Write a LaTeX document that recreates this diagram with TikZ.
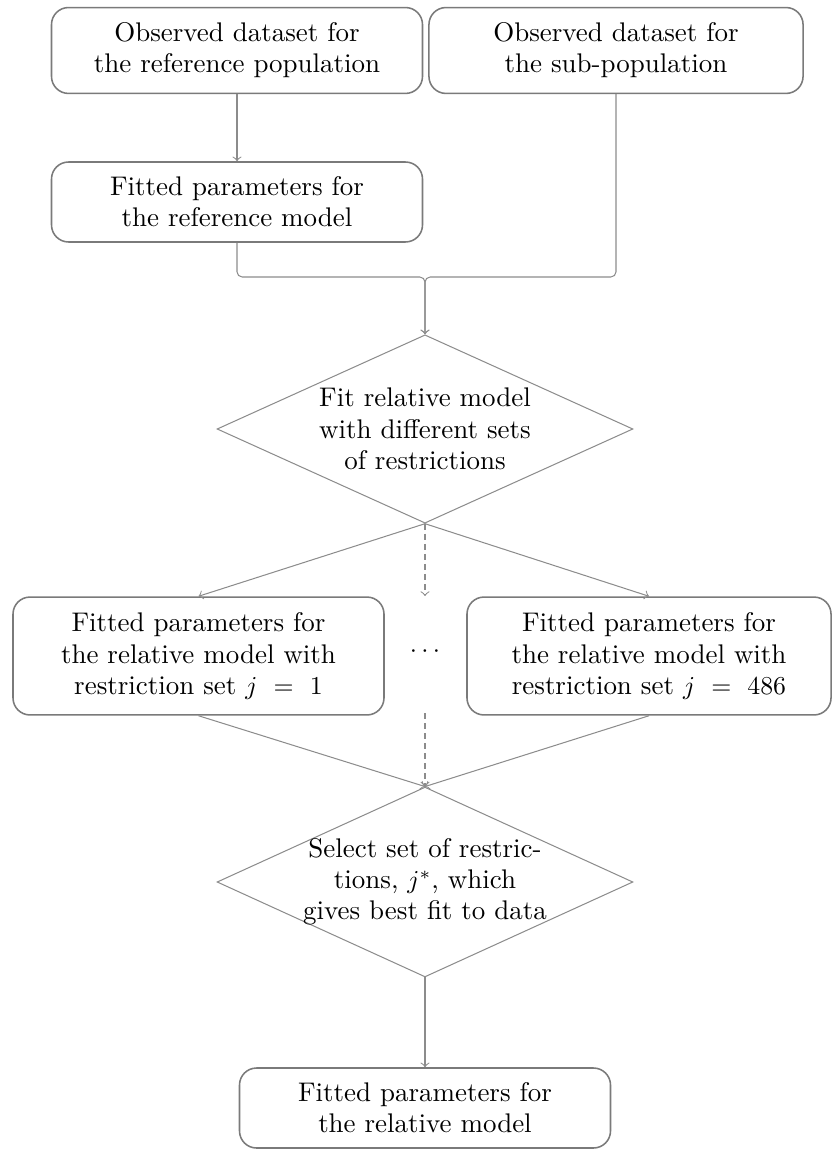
\documentclass[tikz,border=0pt]{standalone}
\usetikzlibrary{shapes.geometric}
\definecolor{boxgray}{HTML}{7A7A7A}
\definecolor{linegray}{HTML}{8C8C8C}
\begin{document}
\begin{tikzpicture}[x=0.3876pt,y=-0.3876pt,
  txt/.style={font=\fontsize{10.45}{12.1}\selectfont},
  box/.style={txt, draw=boxgray, line width=0.6pt, rounded corners=6.6pt, align=center,
    minimum width=143.8pt, inner sep=0pt},
  dia/.style={draw=linegray, line width=0.4pt, shape=diamond, inner sep=0pt,
    minimum width=161.2pt, minimum height=73pt},
  dtext/.style={txt, align=center, inner sep=0pt},
  conn/.style={draw=linegray, line width=0.4pt, ->},
  dconn/.style={conn, dash pattern=on 2.3pt off 1.6pt}]
\useasboundingbox (0,0) rectangle (832,1149);

\node[box, minimum height=33.3pt] (b1) at (237,50.5) {Observed dataset for\\the reference population};
\node[box, minimum height=33.3pt, minimum width=145pt] (b2) at (616,50.5) {Observed dataset for\\the sub-population};
\node[box, minimum height=31pt] (b3) at (237,202) {Fitted parameters for\\the reference model};

\node[dia] (d1) at (425,429) {};
\node[dtext] (d1t) at (425,429) {Fit relative model\\with different sets\\of restrictions};

\node[box, minimum height=45.7pt] (b4) at (198.5,656) {Fitted parameters for\\the relative model with\\restriction set $j\ =\ 1$};
\node[box, minimum height=45.7pt, minimum width=141.1pt] (b5) at (649,656) {Fitted parameters for\\the relative model with\\restriction set $j\ =\ 486$};
\node[txt] (dots) at (425,652) {$\cdots$};

\node[dia, minimum height=73.6pt] (d2) at (425,882) {};
\node[dtext] (d2t) at (425,882) {Select set of restric-\\tions, $j^*$, which\\gives best fit to data};

\node[box, minimum height=31pt] (b6) at (425,1108) {Fitted parameters for\\the relative model};

\coordinate (m) at (425,277);
\coordinate (e1) at (425,596);
\coordinate (s2) at (425,713);

\draw[conn] (b1.south) -- (b3.north);
\draw[conn, rounded corners=2pt] (b3.south) |- (m) -- (d1.north);
\draw[conn, rounded corners=2pt] (b2.south) |- (m) -- (d1.north);

\draw[conn] (d1.south) -- (b4.north);
\draw[conn] (d1.south) -- (b5.north);
\draw[dconn] (d1.south) -- (e1);

\draw[conn] (b4.south) -- (d2.north);
\draw[conn] (b5.south) -- (d2.north);
\draw[dconn] (s2) -- (d2.north);

\draw[conn] (d2.south) -- (b6.north);
\end{tikzpicture}
\end{document}
